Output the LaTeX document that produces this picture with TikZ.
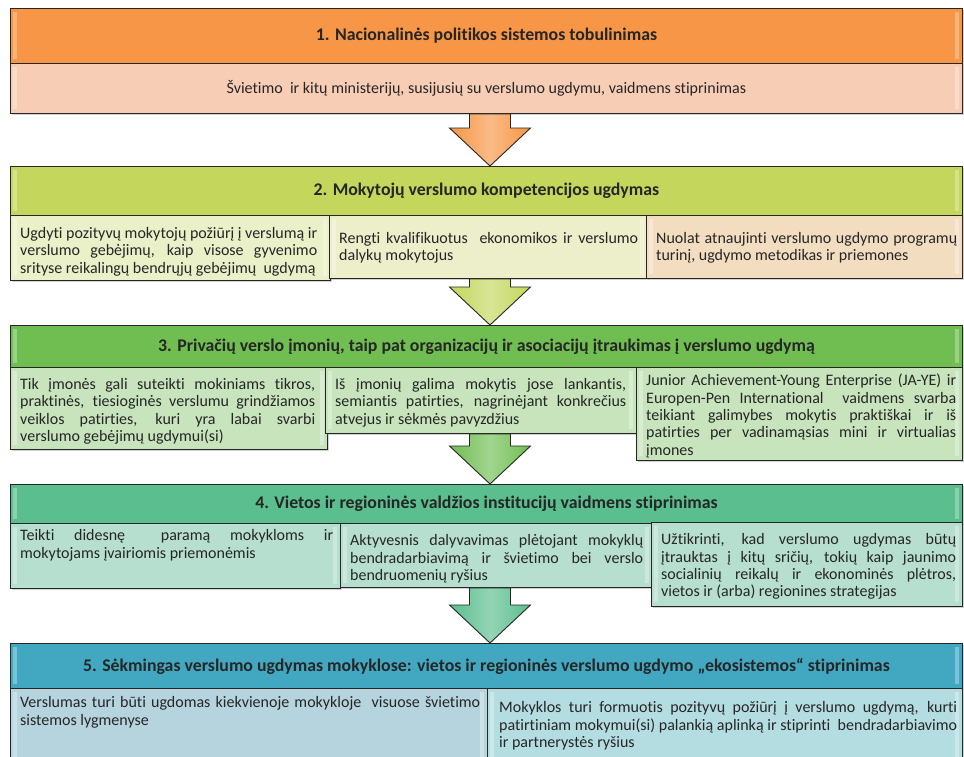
\documentclass[tikz,border=0pt]{standalone}
\usepackage{fontspec}
\setmainfont{Carlito}[Ligatures=NoCommon]
\usetikzlibrary{calc,shadows}

\definecolor{hdrOrange}{RGB}{247,150,70}
\definecolor{subOrange}{RGB}{248,205,181}
\definecolor{hdrLime}{RGB}{196,215,92}
\definecolor{subLimeA}{RGB}{234,240,200}
\definecolor{subLimeB}{RGB}{237,239,203}
\definecolor{subTan}{RGB}{242,221,192}
\definecolor{hdrGreen}{RGB}{112,190,82}
\definecolor{subGreen}{RGB}{199,228,188}
\definecolor{hdrTeal}{RGB}{90,190,142}
\definecolor{subTeal}{RGB}{182,223,208}
\definecolor{hdrBlue}{RGB}{66,168,194}
\definecolor{subBlueA}{RGB}{181,212,222}
\definecolor{subBlueB}{RGB}{180,221,225}
\definecolor{inkgray}{RGB}{38,38,38}

\newcommand\subfont{\fontsize{16}{17.4}\selectfont\hyphenpenalty=10000\relax
  \exhyphenpenalty=10000\relax\tolerance=9999\relax}

\begin{document}
\begin{tikzpicture}[x=1pt,y=-1pt,
  gloss/.style={path picture={
      \fill[white,opacity=0.3] ([xshift=3pt,yshift=-4pt]path picture bounding box.north west)
        rectangle ([xshift=7pt,yshift=4pt]path picture bounding box.south west);
      \fill[white,opacity=0.3] ([xshift=-7pt,yshift=-4pt]path picture bounding box.north east)
        rectangle ([xshift=-3pt,yshift=4pt]path picture bounding box.south east);}},
  hdr/.style={draw=black!85, line width=0.9pt, anchor=north west, inner sep=0pt,
    minimum width=952pt, text=inkgray, gloss,
    font=\fontsize{17.8}{20}\selectfont\bfseries,
    drop shadow={shadow xshift=1.5pt, shadow yshift=-2pt, opacity=0.35}},
  sub/.style={draw=black!85, line width=0.9pt, anchor=north west, inner sep=0pt, gloss,
    drop shadow={shadow xshift=1.5pt, shadow yshift=-2pt, opacity=0.35}},
  txt/.style={anchor=north west, inner xsep=10pt, inner ysep=0pt, align=justify, text=inkgray,
    font=\subfont, execute at begin node={\rule{0pt}{#1}\relax}},
  txt/.default=20pt,
  barrow/.style={draw=black!85, line width=0.9pt, line join=miter}]
\useasboundingbox (0,0) rectangle (964,756);

% band 1
\node[hdr, fill=hdrOrange, minimum height=55pt] (h1) at (10,8)
  {1. Nacionalinės politikos sistemos tobulinimas};
\node[sub, fill=subOrange, minimum width=952pt, minimum height=50pt,
  font=\subfont, text=inkgray] (s1) at (10,63)
  {Švietimo \ ir kitų ministerijų, susijusių su verslumo ugdymu, vaidmens stiprinimas};

% band 2
\node[hdr, fill=hdrLime, minimum height=49pt] (h2) at (10,166)
  {2. Mokytojų verslumo kompetencijos ugdymas};
\node[sub, fill=subLimeA, minimum width=320pt, minimum height=65pt] (s2a) at (10,215) {};
\node[sub, fill=subLimeB, minimum width=318pt, minimum height=63pt] (s2b) at (329,215) {};
\node[sub, fill=subTan, minimum width=316pt, minimum height=63pt] (s2c) at (646,215) {};
\node[txt=23pt, text width=297pt] (t2a) at (s2a.north west)
  {Ugdyti pozityvų mokytojų požiūrį į verslumą ir\linebreak verslumo gebėjimų, kaip visose gyvenimo\linebreak srityse reikalingų bendrųjų gebėjimų \ ugdymą};
\node[txt=28pt, text width=299pt] (t2b) at (s2b.north west)
  {Rengti kvalifikuotus \ ekonomikos ir verslumo\linebreak dalykų mokytojus};
\node[txt=28pt, text width=301pt] (t2c) at (s2c.north west)
  {Nuolat atnaujinti verslumo ugdymo programų\linebreak turinį, ugdymo metodikas ir priemones};

% band 3
\node[hdr, fill=hdrGreen, minimum height=42pt] (h3) at (10,325)
  {3. Privačių verslo įmonių, taip pat organizacijų ir asociacijų įtraukimas į verslumo ugdymą};
\node[sub, fill=subGreen, minimum width=317pt, minimum height=82pt] (s3a) at (10,367) {};
\node[sub, fill=subGreen, minimum width=311pt, minimum height=66pt] (s3b) at (325,367) {};
\node[sub, fill=subGreen, minimum width=326pt, minimum height=93pt] (s3c) at (636,367) {};
\node[txt=22pt, text width=295pt] (t3a) at (s3a.north west)
  {Tik įmonės gali suteikti mokiniams tikros,\linebreak praktinės, tiesioginės verslumu grindžiamos\linebreak veiklos patirties, kuri yra labai svarbi\linebreak verslumo gebėjimų ugdymui(si)};
\node[txt=22pt, text width=291pt] (t3b) at (s3b.north west)
  {Iš įmonių galima mokytis jose lankantis,\linebreak semiantis patirties, nagrinėjant konkrečius\linebreak atvejus ir sėkmės pavyzdžius};
\node[txt=18.5pt, text width=310pt] (t3c) at (s3c.north west)
  {Junior Achievement-Young Enterprise (JA-YE) ir\linebreak Europen-Pen International \ vaidmens svarba\linebreak teikiant galimybes mokytis praktiškai ir iš\linebreak patirties per vadinamąsias mini ir virtualias\linebreak įmones};

% band 4
\node[hdr, fill=hdrTeal, minimum height=39pt] (h4) at (10,484)
  {4. Vietos ir regioninės valdžios institucijų vaidmens stiprinimas};
\node[sub, fill=subTeal, minimum width=330pt, minimum height=65pt] (s4a) at (10,523) {};
\node[sub, fill=subTeal, minimum width=312pt, minimum height=64pt] (s4b) at (340,523) {};
\node[sub, fill=subTeal, minimum width=311pt, minimum height=84pt] (s4c) at (651,522) {};
\node[txt=17.5pt, text width=313pt] (t4a) at (s4a.north west)
  {Teikti didesnę \quad paramą mokykloms ir\linebreak mokytojams įvairiomis priemonėmis};
\node[txt=22.5pt, text width=293pt] (t4b) at (s4b.north west)
  {Aktyvesnis dalyvavimas plėtojant mokyklų\linebreak bendradarbiavimą ir švietimo bei verslo\linebreak bendruomenių ryšius};
\node[txt=22.5pt, text width=295pt] (t4c) at (s4c.north west)
  {Užtikrinti, kad verslumo ugdymas būtų\linebreak įtrauktas į kitų sričių, tokių kaip jaunimo\linebreak socialinių reikalų ir ekonominės plėtros,\linebreak vietos ir (arba) regionines strategijas};

% band 5
\node[hdr, fill=hdrBlue, minimum height=45pt] (h5) at (10,643)
  {5. Sėkmingas verslumo ugdymas mokyklose: vietos ir regioninės verslumo ugdymo „ekosistemos“ stiprinimas};
\node[sub, fill=subBlueA, minimum width=477pt, minimum height=80pt] (s5a) at (10,688) {};
\node[sub, fill=subBlueB, minimum width=475pt, minimum height=80pt] (s5b) at (487,688) {};
\node[txt=19.5pt, text width=460pt] (t5a) at (s5a.north west)
  {Verslumas turi būti ugdomas kiekvienoje mokykloje \ visuose švietimo\linebreak sistemos lygmenyse};
\node[txt=24.5pt, text width=458pt, inner xsep=12pt] (t5b) at (s5b.north west)
  {Mokyklos turi formuotis pozityvų požiūrį į verslumo ugdymą, kurti\linebreak patirtiniam mokymui(si) palankią aplinką ir stiprinti \ bendradarbiavimo\linebreak ir partnerystės ryšius};

% block arrows between the bands
\foreach \from/\to/\col in {s1/h2/hdrOrange, s2b/h3/hdrLime, s3b/h4/hdrGreen, s4b/h5/hdrTeal}
  \shadedraw[barrow, left color=\col, right color=\col, middle color=\col!65!white]
    let \p1=(\from.south), \p2=(\to.north) in
    (469.5pt,\y1) -- (510.5pt,\y1) -- (510.5pt,\y2+38pt) -- (530.5pt,\y2+38pt)
    -- (490pt,\y2) -- (449.5pt,\y2+38pt) -- (469.5pt,\y2+38pt) -- cycle;
\end{tikzpicture}
\end{document}
